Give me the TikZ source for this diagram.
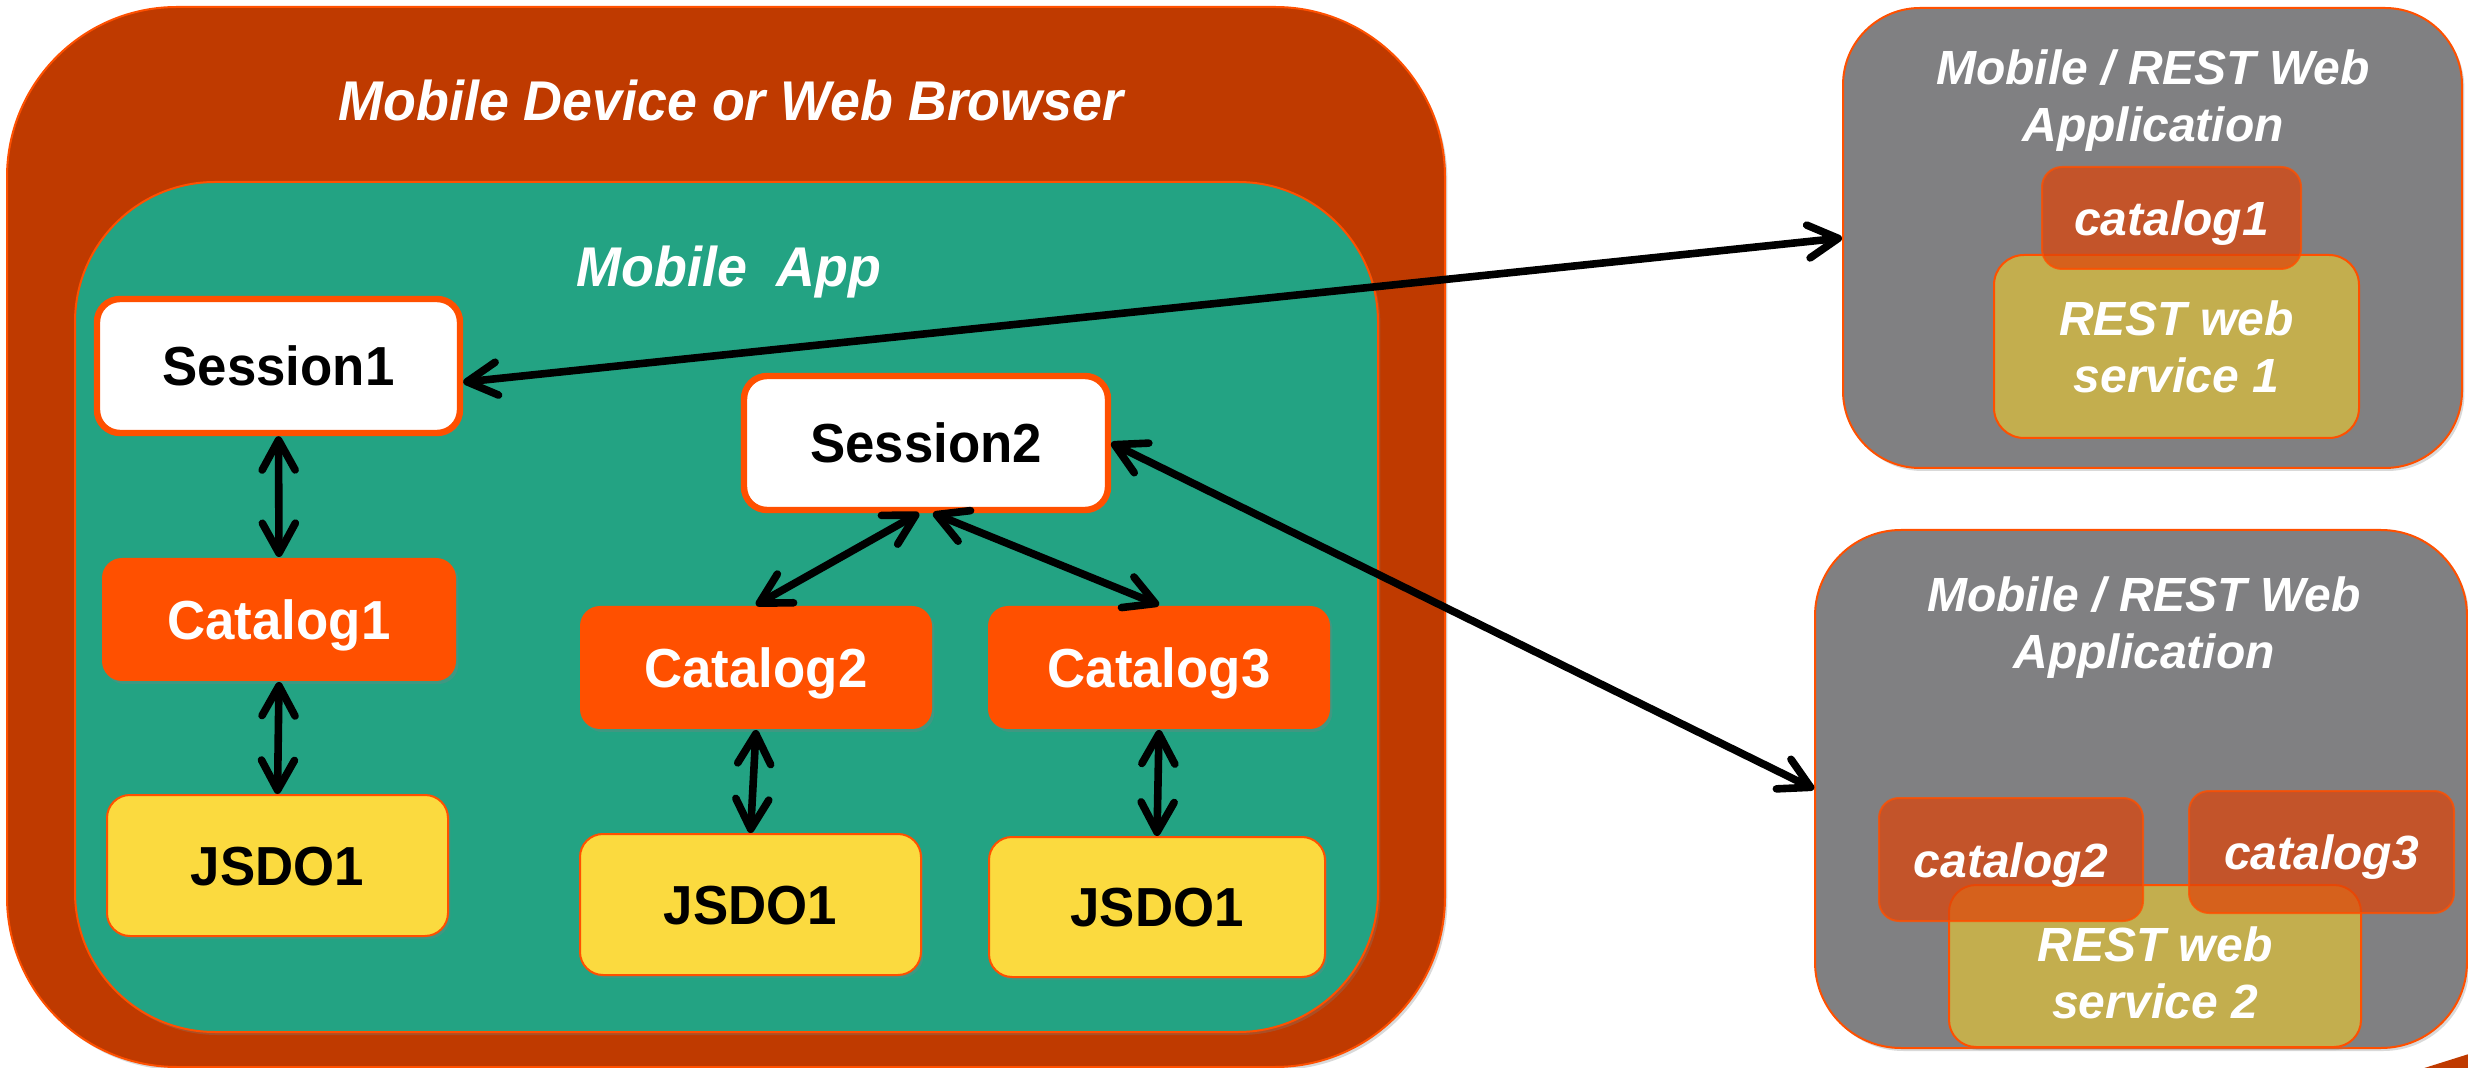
\documentclass[tikz,border=0pt]{standalone}
\usepackage{fontspec}
\setmainfont{Liberation Sans}[FakeStretch=0.96]
\newfontfamily\remotefont{Liberation Sans}
\usetikzlibrary{arrows.meta,shadows,calc}

\definecolor{devbrown}{HTML}{BF3A00}
\definecolor{appteal}{HTML}{23A383}
\definecolor{hotorange}{HTML}{FF5000}
\definecolor{jsdoyellow}{HTML}{FBDA3F}
\definecolor{servergray}{HTML}{808082}
\definecolor{restolive}{HTML}{C3AE4E}
\definecolor{remotecat}{HTML}{DE4409}

\tikzset{
  panel/.style={inner sep=0pt, draw=hotorange, line width=1pt, anchor=center},
  softshadow/.style={drop shadow={opacity=0.3, shadow xshift=1.2pt, shadow yshift=-1.5pt}},
  lbl/.style={font=\fontsize{27.5}{33}\selectfont\bfseries, text height=19.7pt, text depth=0pt},
  bigtitle/.style={font=\fontsize{28}{33}\selectfont\bfseries\itshape, text=white, anchor=base},
  sessionbox/.style={panel, lbl, fill=white, line width=3.2pt, rounded corners=11.5pt, softshadow},
  catbox/.style={panel, lbl, draw=none, fill=hotorange, text=white, rounded corners=10pt, softshadow},
  jsdobox/.style={panel, lbl, fill=jsdoyellow, rounded corners=11.5pt, softshadow},
  remotebox/.style={panel, fill=servergray, softshadow},
  remotetitle/.style={font=\remotefont\fontsize{24}{28.5}\selectfont\bfseries\itshape, text=white, align=center},
  restbox/.style={panel, fill=restolive, text=white, align=center,
    font=\remotefont\fontsize{24}{28.5}\selectfont\bfseries\itshape, softshadow},
  remotecatbox/.style={panel, fill=remotecat, fill opacity=0.72, draw opacity=0.8, text opacity=1,
    text=white, rounded corners=10pt,
    font=\remotefont\fontsize{24}{28.5}\selectfont\bfseries\itshape, text height=17.5pt, text depth=0pt},
  barb/.tip={Straight Barb[length=15pt,width=16.5pt,line cap=round,line join=round]},
  link/.style={line width=3.8pt, black, barb-barb}
}

\begin{document}
\begin{tikzpicture}[x=0.5pt, y=-0.5pt]
\useasboundingbox (0,0) rectangle (2468,1068);

% client side: device and app containers
\node[panel, fill=devbrown, rounded corners=85pt, softshadow,
      minimum width=719pt, minimum height=530pt] (device) at (726,537) {};
\node[bigtitle] (devtitle) at (731,121) {Mobile Device or Web Browser};
\node[panel, fill=appteal, rounded corners=70pt, softshadow,
      minimum width=651.5pt, minimum height=425pt] (app) at (726.5,607) {};
\node[bigtitle] (apptitle) at (729,287) {Mobile\ \ App};

% sessions, catalogs and data objects
\node[sessionbox, minimum width=181.5pt, minimum height=67pt] (s1) at (278.5,366) {Session1};
\node[catbox, minimum width=177pt, minimum height=61.5pt] (c1) at (279,619.5) {Catalog1};
\node[jsdobox, minimum width=170.5pt, minimum height=70.5pt] (j1) at (277.5,865.5) {JSDO1};

\node[sessionbox, minimum width=182pt, minimum height=67pt] (s2) at (926,443) {Session2};
\node[catbox, minimum width=176pt, minimum height=61.5pt] (c2) at (756,667.5) {Catalog2};
\node[catbox, minimum width=171pt, minimum height=61.5pt] (c3) at (1159,667.5) {Catalog3};
\node[jsdobox, minimum width=170.5pt, minimum height=70.5pt] (j2) at (750.5,904.5) {JSDO1};
\node[jsdobox, minimum width=168pt, minimum height=70pt] (j3) at (1157,907) {JSDO1};

% server side: first web application
\node[remotebox, rounded corners=38.5pt, minimum width=309.5pt, minimum height=230pt] (srv1) at (2152.5,238) {};
\node[remotetitle] (srv1title) at (2153,101) {Mobile / REST Web\\Application};
\node[restbox, rounded corners=15pt, minimum width=182.5pt, minimum height=91.5pt] (rest1) at (2176.5,346.5) {REST web\\service 1};
\node[remotecatbox, minimum width=129.5pt, minimum height=51pt] (rc1) at (2171.5,218) {catalog1};

% server side: second web application
\node[remotebox, rounded corners=43pt, minimum width=326pt, minimum height=259pt] (srv2) at (2141,789) {};
\node[remotetitle] (srv2title) at (2144,628) {Mobile / REST Web\\Application};
\node[restbox, rounded corners=13.5pt, minimum width=206pt, minimum height=81pt,
      text height=52pt, text depth=0pt] (rest2) at (2155,966) {REST web\\service 2};
\node[remotecatbox, minimum width=132pt, minimum height=61.5pt] (rc2) at (2011,859.5) {catalog2};
\node[remotecatbox, minimum width=132.5pt, minimum height=61pt] (rc3) at (2321.5,852) {catalog3};

% connections
\draw[link] (s1.south) -- (c1.north);
\draw[link] (c1.south) -- (j1.north);
\draw[link] ($(s2.south)+(-7,0)$) -- (c2.north);
\draw[link] ($(s2.south)+(7,0)$) -- (c3.north);
\draw[link] (c2.south) -- (j2.north);
\draw[link] (c3.south) -- (j3.north);
\draw[link] (s1.-5) -- (srv1.west);
\draw[link] (s2.east) -- (srv2.west);

% edge of a shape running off the lower right corner
\fill[devbrown] (2418,1070) -- (2472,1053) -- (2472,1070) -- cycle;
\end{tikzpicture}
\end{document}
